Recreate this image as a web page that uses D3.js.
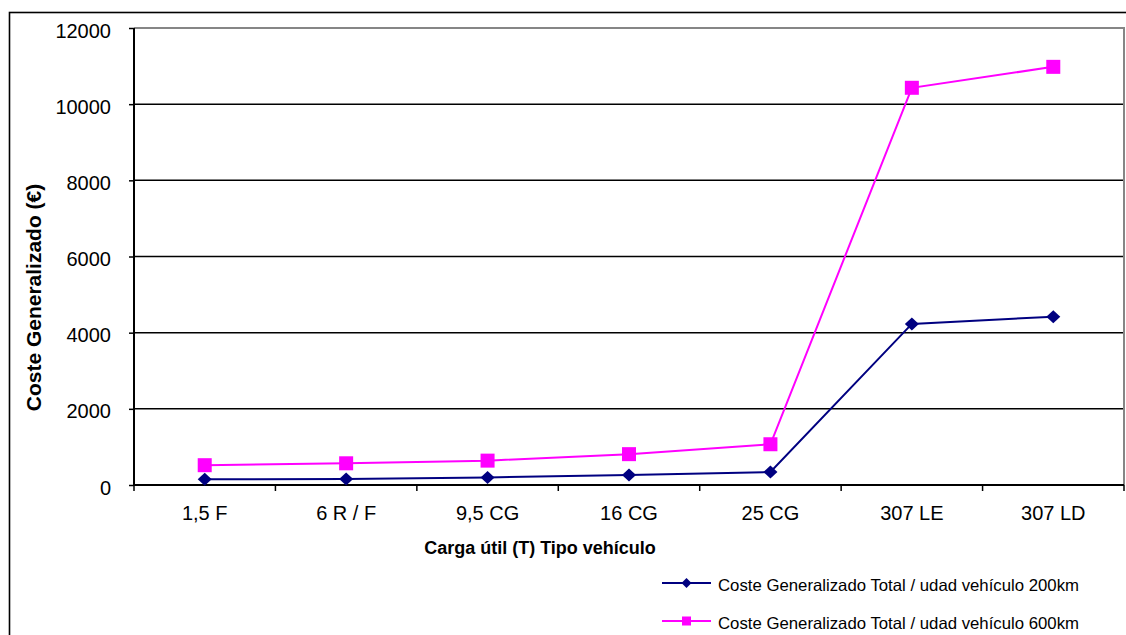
<!DOCTYPE html>
<html>
<head>
<meta charset="utf-8">
<script src="https://cdn.jsdelivr.net/npm/d3@7"></script>
<style>
  html, body { margin: 0; padding: 0; background: #fff; }
  svg { display: block; font-family: Arial, "Liberation Sans", sans-serif; }
</style>
</head>
<body>
<svg id="chart" width="1126" height="635"></svg>
<script>
const categories = ["1,5 F", "6 R / F", "9,5 CG", "16 CG", "25 CG", "307 LE", "307 LD"];
const values200 = [150, 160, 200, 260, 340, 4230, 4420];
const values600 = [520, 570, 640, 810, 1070, 10430, 10980];
const yTicks = [0, 2000, 4000, 6000, 8000, 10000, 12000];
const seriesNames = [
  "Coste Generalizado Total / udad vehículo 200km",
  "Coste Generalizado Total / udad vehículo 600km"
];
const xTitle = "Carga útil (T) Tipo vehículo";
const yTitle = "Coste Generalizado (€)";

const svg = d3.select("#chart");
const W = 1126, H = 635;
const plot = { left: 134, right: 1124, top: 28, bottom: 485 };

// outer chart frame (extends beyond the window at right and bottom)
svg.append("rect")
  .attr("x", 9.5).attr("y", 12.5)
  .attr("width", 1140).attr("height", 700)
  .attr("fill", "#fff").attr("stroke", "#000").attr("stroke-width", 1.6);

const x = d3.scaleBand().domain(categories).range([plot.left, plot.right]).padding(0);
const y = d3.scaleLinear().domain([0, 12000]).range([plot.bottom, plot.top]);

// gridlines
svg.append("g").selectAll("line")
  .data(yTicks.filter(d => d > 0 && d < 12000))
  .join("line")
  .attr("x1", plot.left).attr("x2", plot.right)
  .attr("y1", d => y(d)).attr("y2", d => y(d))
  .attr("stroke", "#000").attr("stroke-width", 1.5);

// plot border (top and right, grey)
svg.append("path")
  .attr("d", `M${plot.left},${plot.top}H${plot.right}V${plot.bottom}`)
  .attr("fill", "none").attr("stroke", "#868686").attr("stroke-width", 2);

// y axis
const yAxis = d3.axisLeft(y).tickValues(yTicks).tickSize(5).tickPadding(18).tickFormat(d3.format("d"));
const gy = svg.append("g").attr("transform", `translate(${plot.left},0)`).call(yAxis);
gy.select(".domain").attr("stroke", "#000").attr("stroke-width", 2)
  .attr("d", `M0,${plot.top}V${plot.bottom}`);
gy.selectAll(".tick line").attr("stroke", "#000").attr("stroke-width", 1.5);
gy.selectAll(".tick text").attr("font-size", 20).attr("fill", "#000")
  .attr("font-family", "Arial, 'Liberation Sans', sans-serif").attr("dy", "0.45em");

// x axis: ticks at category boundaries
const xAxis = d3.axisBottom(x).tickSize(0).tickPadding(0);
const gx = svg.append("g").attr("transform", `translate(0,${plot.bottom})`).call(xAxis);
gx.select(".domain").attr("stroke", "#000").attr("stroke-width", 2)
  .attr("d", `M${plot.left},0H${plot.right}`);
gx.selectAll(".tick text").attr("font-size", 20).attr("fill", "#000")
  .attr("font-family", "Arial, 'Liberation Sans', sans-serif")
  .attr("y", 35).attr("dy", 0);
const boundaries = categories.map(c => x(c)).concat([x(categories[categories.length - 1]) + x.bandwidth()]);
svg.append("g").selectAll("line").data(boundaries).join("line")
  .attr("x1", d => d).attr("x2", d => d)
  .attr("y1", plot.bottom).attr("y2", plot.bottom + 6)
  .attr("stroke", "#000").attr("stroke-width", 1.5);

// axis titles
svg.append("text")
  .attr("x", 540).attr("y", 554)
  .attr("text-anchor", "middle").attr("font-weight", "bold").attr("font-size", 18)
  .attr("fill", "#000").text(xTitle);
svg.append("text")
  .attr("transform", "translate(41,297.5) rotate(-90)")
  .attr("text-anchor", "middle").attr("font-weight", "bold").attr("font-size", 21)
  .attr("fill", "#000").text(yTitle);

const cx = d => x(d) + x.bandwidth() / 2;
const line = d3.line().x(d => cx(d.c)).y(d => y(d.v));

function diamondPath(px, py, hw, hh) {
  return `M${px},${py - hh}L${px + hw},${py}L${px},${py + hh}L${px - hw},${py}Z`;
}

const s200 = categories.map((c, i) => ({ c, v: values200[i] }));
const s600 = categories.map((c, i) => ({ c, v: values600[i] }));

// series 200km
svg.append("path").datum(s200).attr("d", line)
  .attr("fill", "none").attr("stroke", "#000080").attr("stroke-width", 2);
svg.append("g").selectAll("path").data(s200).join("path")
  .attr("d", d => diamondPath(cx(d.c), y(d.v), 7, 6.5))
  .attr("fill", "#000080");

// series 600km
svg.append("path").datum(s600).attr("d", line)
  .attr("fill", "none").attr("stroke", "#FF00FF").attr("stroke-width", 2);
svg.append("g").selectAll("rect").data(s600).join("rect")
  .attr("x", d => cx(d.c) - 7).attr("y", d => y(d.v) - 7)
  .attr("width", 14).attr("height", 14)
  .attr("fill", "#FF00FF");

// legend
const legend = svg.append("g");
const legendRows = [
  { name: seriesNames[0], color: "#000080", kind: "diamond", y: 583 },
  { name: seriesNames[1], color: "#FF00FF", kind: "square", y: 621 }
];
legendRows.forEach(r => {
  legend.append("line").attr("x1", 662).attr("x2", 711).attr("y1", r.y).attr("y2", r.y)
    .attr("stroke", r.color).attr("stroke-width", 2);
  if (r.kind === "diamond") {
    legend.append("path").attr("d", diamondPath(686.5, r.y, 5, 5)).attr("fill", r.color);
  } else {
    legend.append("rect").attr("x", 682).attr("y", r.y - 4.5).attr("width", 9).attr("height", 9).attr("fill", r.color);
  }
  legend.append("text").attr("x", 718).attr("y", r.y + 8)
    .attr("font-size", 16.5).attr("fill", "#000")
    .attr("textLength", 361).attr("lengthAdjust", "spacingAndGlyphs")
    .text(r.name);
});
</script>
</body>
</html>
